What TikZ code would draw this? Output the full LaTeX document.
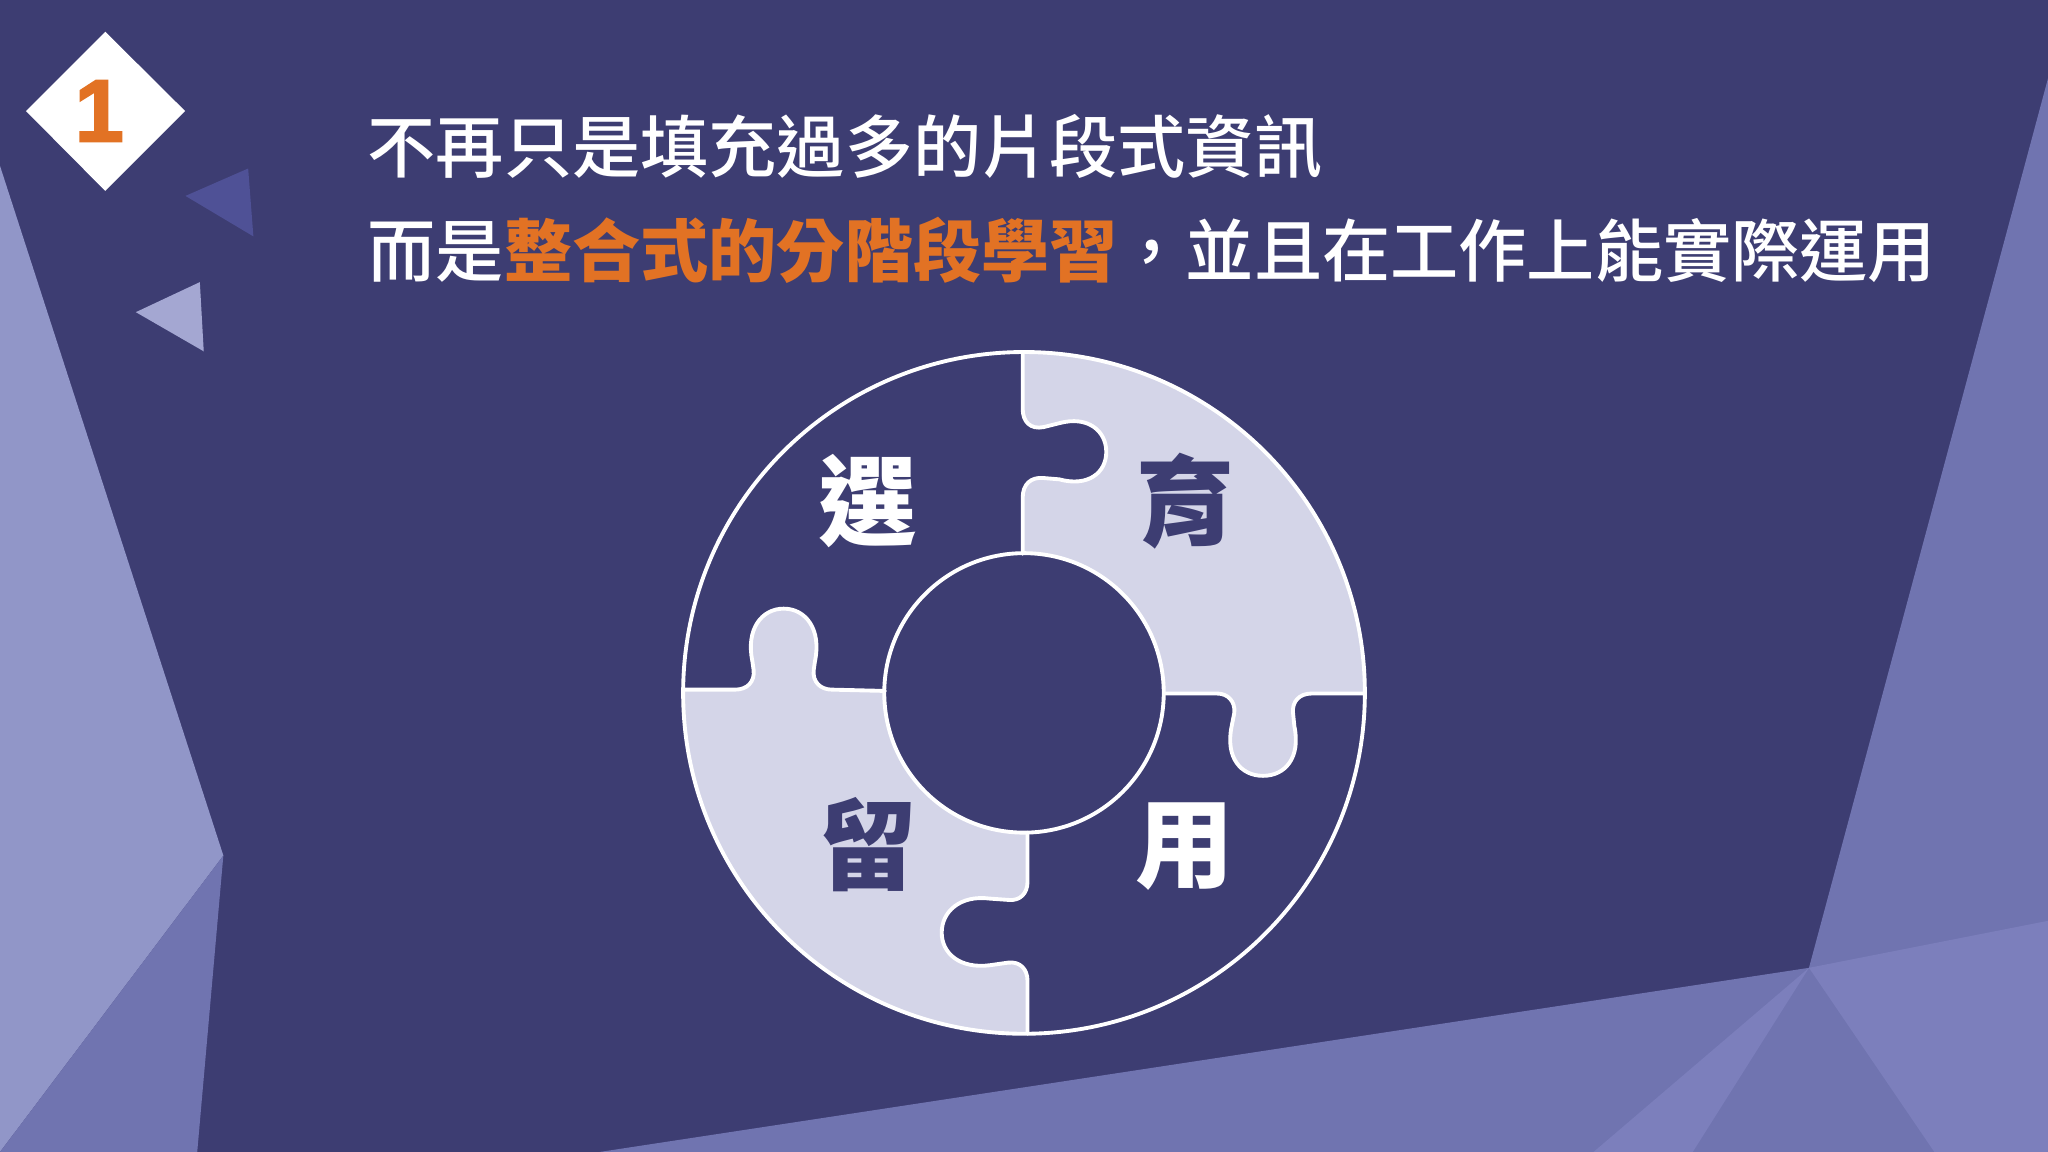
\documentclass[tikz,border=0pt]{standalone}
\usepackage{fontspec}
\setmainfont{Noto Sans CJK TC}
\newfontfamily\cjkmed{Noto Sans CJK TC Medium}
\newfontfamily\cjkblack{Noto Sans CJK TC Black}
\newfontfamily\numfont{Liberation Sans}[BoldFeatures={FakeBold=2.5}]
\definecolor{bg}{RGB}{61,61,114}
\definecolor{lightpoly}{RGB}{145,150,200}
\definecolor{midpoly}{RGB}{112,116,176}
\definecolor{lighterpoly}{RGB}{124,127,188}
\definecolor{tridark}{RGB}{79,81,150}
\definecolor{trilight}{RGB}{164,167,210}
\definecolor{piece}{RGB}{212,213,232}
\definecolor{accent}{RGB}{226,114,36}
\tikzset{
  seam/.style={draw=white, line width=1.1pt, line join=round, line cap=round},
  titletext/.style={text=white, inner sep=0pt, anchor=west, font=\cjkmed\fontsize{19.4pt}{22pt}\selectfont},
  lbl/.style={inner sep=0pt, font=\cjkblack\fontsize{28pt}{32pt}\selectfont},
}
\begin{document}
\begin{tikzpicture}[x=0.01306cm,y=-0.01306cm]
\useasboundingbox (0,0) rectangle (1568,882);
\fill[bg] (0,0) rectangle (1568,882);
% background facets
\fill[lightpoly] (0,127) -- (171,655) -- (0,882) -- cycle;
\fill[midpoly] (171,655) -- (151,882) -- (0,882) -- cycle;
\fill[midpoly] (459,882) -- (1385,741) -- (1568,60) -- (1568,882) -- cycle;
\fill[lighterpoly] (1385,741) -- (1568,705) -- (1568,882) -- (1481,882) -- cycle;
\fill[lighterpoly] (1385,741) -- (1220,882) -- (1296,882) -- cycle;
% small triangles
\fill[tridark] (142,150) -- (190,129) -- (194,181) -- cycle;
\fill[trilight] (104,239) -- (153,216) -- (156,269) -- cycle;
% badge
\fill[white] (19.9,85) -- (80.6,24.3) -- (141.7,85) -- (80.6,146.2) -- cycle;
\node[text=accent, inner sep=0pt, font=\numfont\bfseries\fontsize{25pt}{26pt}\selectfont] (num) at (76,85) {1};
% title
\node[titletext] (t1) at (281,112) {不再只是填充過多的片段式資訊};
\node[titletext] (t2) at (281,192) {而是{\cjkblack\color{accent}整合式的分階段學習}，並且在工作上能實際運用};
% puzzle
\coordinate (C) at (784,530.5);
\begin{scope}
\clip (C) circle [radius=3.4087cm];
\fill[piece] (783,200) -- (783,313) .. controls (783,323) and (789,329) .. (799,327) -- (811,324) .. controls (833,318) and (847,330) .. (847,346) .. controls (847,362) and (833,373) .. (811,367) -- (799,366) .. controls (789,365) and (783,371) .. (783,381) -- (783,424) -- (784,531) -- (891.5,531) -- (932,531) .. controls (940,531) and (946,537) .. (945,546) -- (943,556) .. controls (938,580) and (950,594) .. (967,594) .. controls (984,594) and (996,580) .. (991,556) -- (990,546) .. controls (989,537) and (995,531) .. (1004,531) -- (1100,531) -- (1100,200) -- cycle;
\fill[piece] (450,528) -- (563,528) .. controls (572,528) and (578,522) .. (577,513) -- (576,506) .. controls (571,482) and (583,466) .. (600,466) .. controls (617,466) and (629,482) .. (624,506) -- (623,513) .. controls (622,522) and (628,528) .. (637,528) -- (677.5,529) -- (784,531) -- (786.7,637.5) -- (786.7,675) .. controls (786.7,684) and (781,690) .. (772,689) -- (758,688) .. controls (735,685) and (721,698) .. (721,714) .. controls (721,730) and (735,742) .. (758,739) -- (772,737) .. controls (781,736) and (786.7,742) .. (786.7,751) -- (786.7,850) -- (450,850) -- cycle;
\end{scope}
\fill[bg] (C) circle [radius=1.3974cm];
\draw[seam] (C) circle [radius=3.4087cm];
\draw[seam] (C) circle [radius=1.3974cm];
% seams
\draw[seam] (783,270.5) -- (783,313) .. controls (783,323) and (789,329) .. (799,327) -- (811,324) .. controls (833,318) and (847,330) .. (847,346) .. controls (847,362) and (833,373) .. (811,367) -- (799,366) .. controls (789,365) and (783,371) .. (783,381) -- (783,424);
\draw[seam] (891.5,531) -- (932,531) .. controls (940,531) and (946,537) .. (945,546) -- (943,556) .. controls (938,580) and (950,594) .. (967,594) .. controls (984,594) and (996,580) .. (991,556) -- (990,546) .. controls (989,537) and (995,531) .. (1004,531) -- (1045,531);
\draw[seam] (523,528) -- (563,528) .. controls (572,528) and (578,522) .. (577,513) -- (576,506) .. controls (571,482) and (583,466) .. (600,466) .. controls (617,466) and (629,482) .. (624,506) -- (623,513) .. controls (622,522) and (628,528) .. (637,528) -- (677.5,529);
\draw[seam] (786.7,637.5) -- (786.7,675) .. controls (786.7,684) and (781,690) .. (772,689) -- (758,688) .. controls (735,685) and (721,698) .. (721,714) .. controls (721,730) and (735,742) .. (758,739) -- (772,737) .. controls (781,736) and (786.7,742) .. (786.7,751) -- (786.7,791.5);
% labels
\node[lbl, text=white] (xuan) at (664.5,384) {選};
\node[lbl, text=bg] (yu) at (908,384) {育};
\node[lbl, text=bg] (liu) at (664.5,647) {留};
\node[lbl, text=white] (yong) at (907,648) {用};
\end{tikzpicture}
\end{document}
